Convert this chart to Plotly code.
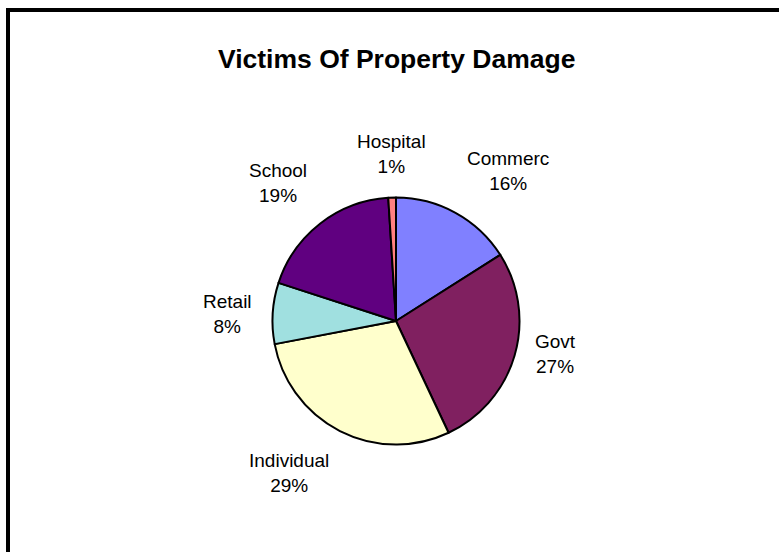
import math
import plotly.graph_objects as go

# Share of property-damage victims by category (percent)
categories = ["Commerc", "Govt", "Individual", "Retail", "School", "Hospital"]
shares = [16, 27, 29, 8, 19, 1]
slice_colors = ["#8080FF", "#802060", "#FFFFCC", "#A0E0E0", "#600080", "#FF8080"]

W, H = 779, 552
CX, CY, R = 396, 321, 123.5      # pie centre and radius in pixels
LABEL_GAP = 19                    # distance of label anchor outside the rim
LABEL_SIZE = 19
LABEL_BLOCK_H = 2 * 1.3 * LABEL_SIZE

fig = go.Figure()

fig.add_trace(go.Pie(
    labels=categories,
    values=shares,
    sort=False,
    direction="clockwise",
    rotation=0,
    marker=dict(colors=slice_colors, line=dict(color="black", width=2)),
    textinfo="none",
    hoverinfo="label+percent",
    showlegend=False,
    domain=dict(
        x=[(CX - R) / W, (CX + R) / W],
        y=[1 - (CY + R) / H, 1 - (CY - R) / H],
    ),
))

# Outside labels, anchored at the mid-angle of each slice
total = sum(shares)
cum = 0.0
annotations = []
for name, v in zip(categories, shares):
    mid = (cum + v / 2) / total * 2 * math.pi
    cum += v
    dx, dy = math.sin(mid), -math.cos(mid)   # screen direction (y down)
    px = CX + dx * (R + LABEL_GAP)
    py = CY + dy * (R + LABEL_GAP)
    xa = "left" if dx > 0.3 else ("right" if dx < -0.3 else "center")
    ya = "bottom" if dy < -0.3 else ("top" if dy > 0.3 else "middle")
    yshift = dy * LABEL_BLOCK_H / 2 if ya == "middle" else 0
    pct = round(v / total * 100)
    annotations.append(dict(
        x=px / W, y=1 - py / H, xref="paper", yref="paper",
        text=f"{name}<br>{pct}%", showarrow=False,
        xanchor=xa, yanchor=ya, align="center", yshift=yshift,
        font=dict(family="Liberation Sans, Arial, sans-serif", size=LABEL_SIZE, color="black"),
    ))

annotations.append(dict(
    x=396.5 / W, y=1 - 59.5 / H, xref="paper", yref="paper",
    text="<b>Victims Of Property Damage</b>", showarrow=False,
    xanchor="center", yanchor="middle",
    font=dict(family="Liberation Sans, Arial, sans-serif", size=26.5, color="black"),
))

# Chart frame: left and top edges
frame = dict(color="black", width=4)
shapes = [
    dict(type="line", xref="paper", yref="paper",
         x0=8 / W, x1=8 / W, y0=-0.05, y1=1 - 8 / H, line=frame),
    dict(type="line", xref="paper", yref="paper",
         x0=6 / W, x1=1.05, y0=1 - 10 / H, y1=1 - 10 / H, line=frame),
]

fig.update_layout(
    width=W, height=H,
    margin=dict(l=0, r=0, t=0, b=0),
    paper_bgcolor="white", plot_bgcolor="white",
    annotations=annotations, shapes=shapes,
)

fig.write_html("out.html", config={"displayModeBar": False})
